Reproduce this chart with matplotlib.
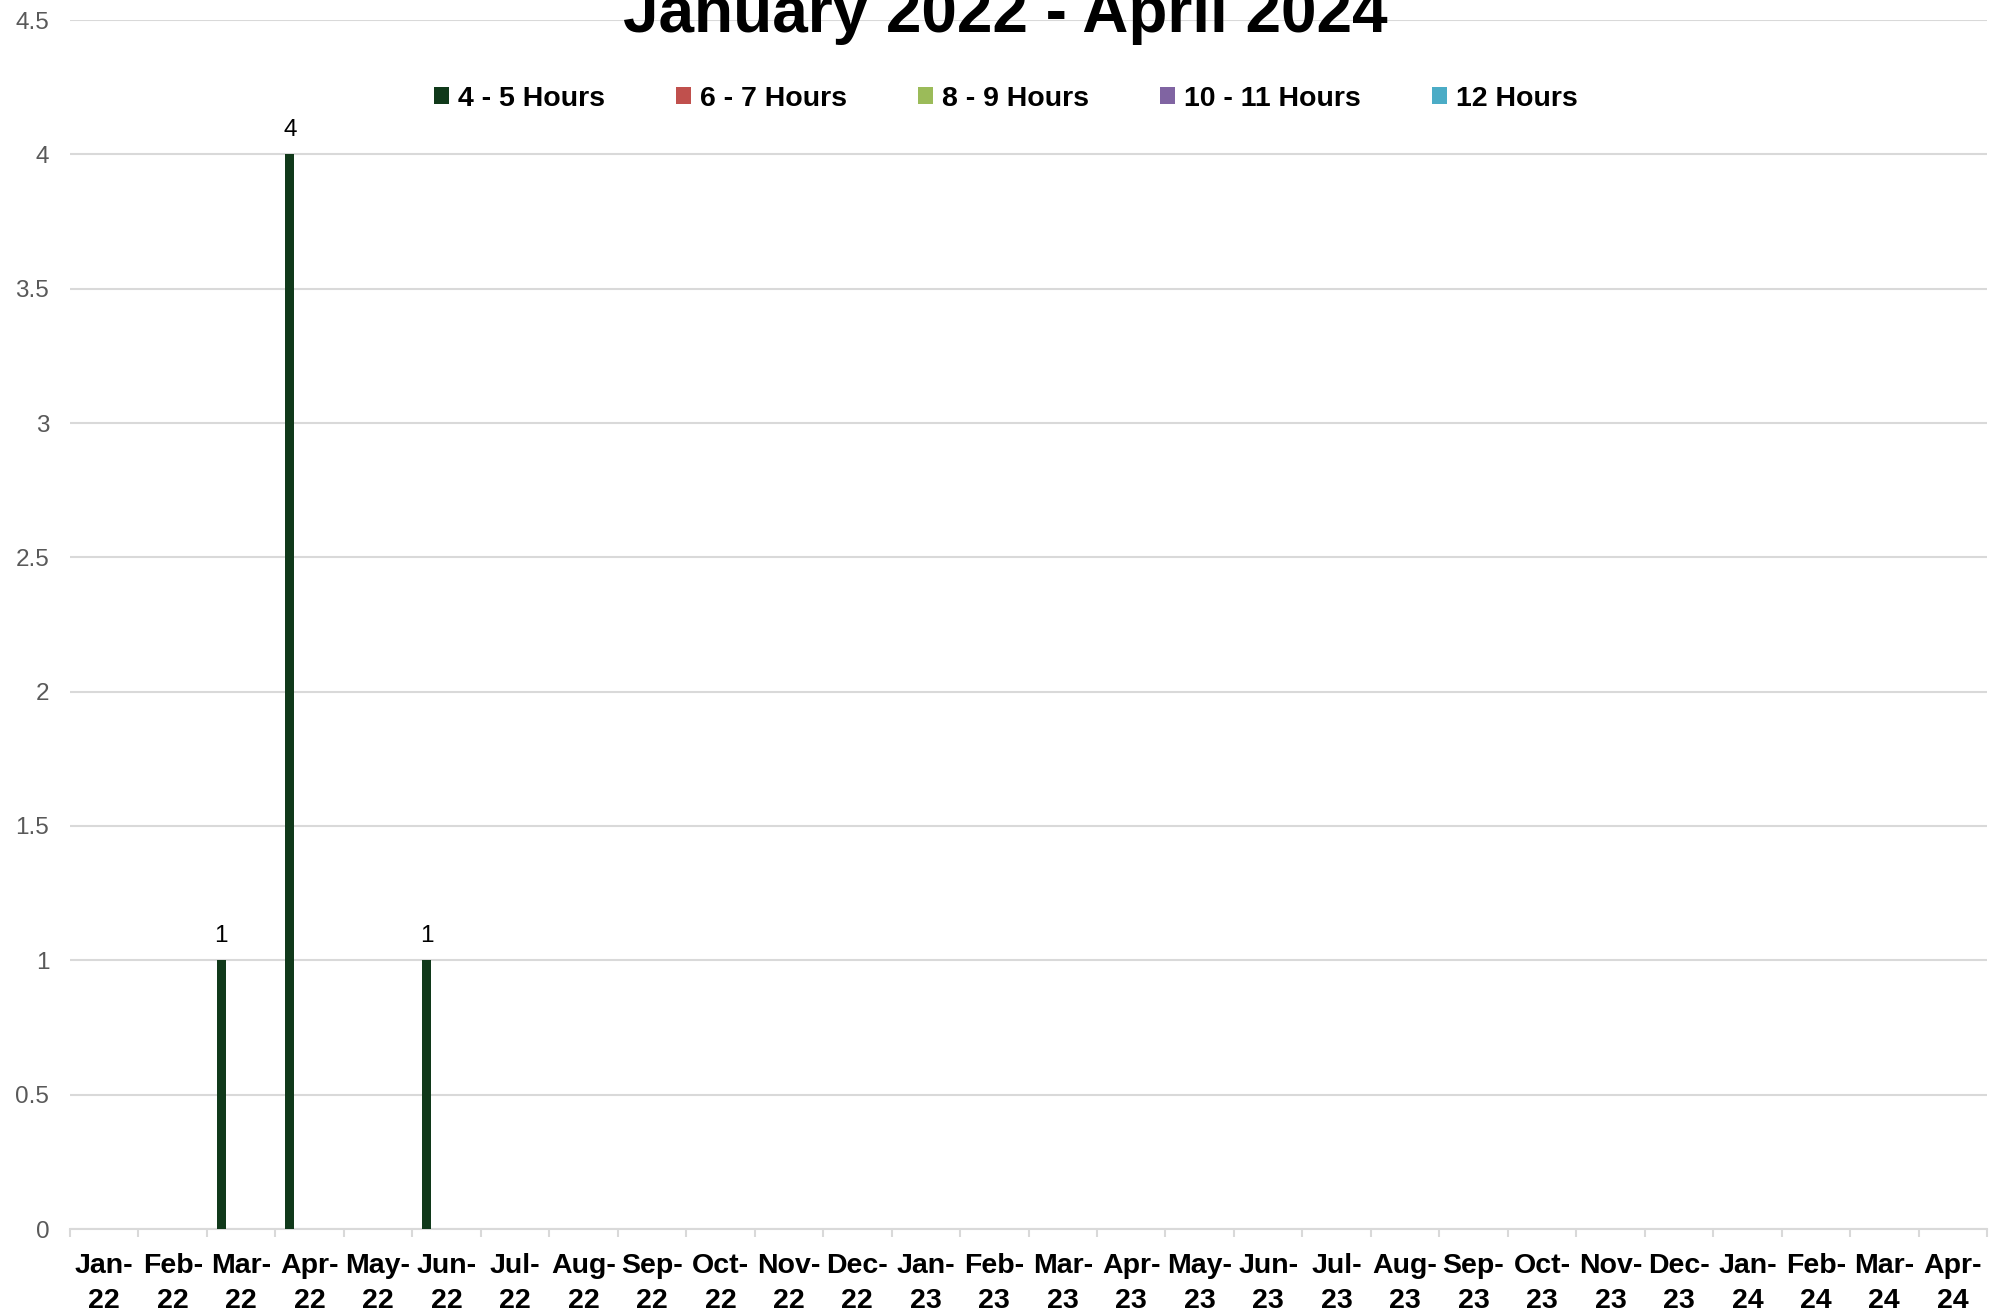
import matplotlib
matplotlib.use("Agg")
import matplotlib.pyplot as plt
from matplotlib.patches import Patch
import numpy as np

months = ["Jan-\n22", "Feb-\n22", "Mar-\n22", "Apr-\n22", "May-\n22", "Jun-\n22",
          "Jul-\n22", "Aug-\n22", "Sep-\n22", "Oct-\n22", "Nov-\n22", "Dec-\n22",
          "Jan-\n23", "Feb-\n23", "Mar-\n23", "Apr-\n23", "May-\n23", "Jun-\n23",
          "Jul-\n23", "Aug-\n23", "Sep-\n23", "Oct-\n23", "Nov-\n23", "Dec-\n23",
          "Jan-\n24", "Feb-\n24", "Mar-\n24", "Apr-\n24"]

series_names = ["4 - 5 Hours", "6 - 7 Hours", "8 - 9 Hours", "10 - 11 Hours", "12 Hours"]
hours_4_5 = [0, 0, 1, 4, 0, 1, 0, 0, 0, 0, 0, 0, 0, 0, 0, 0, 0, 0, 0, 0, 0, 0, 0, 0, 0, 0, 0, 0]
hours_6_7 = [0] * 28
hours_8_9 = [0] * 28
hours_10_11 = [0] * 28
hours_12 = [0] * 28
series_values = [hours_4_5, hours_6_7, hours_8_9, hours_10_11, hours_12]
colors = ["#10391a", "#c0504d", "#9bbb59", "#8064a2", "#4bacc6"]

title = "January 2022 - April 2024"

plt.rcParams['font.family'] = ['Liberation Sans', 'DejaVu Sans']

W, H = 2007, 1314
fig = plt.figure(figsize=(W / 100, H / 100), dpi=100)
ax = fig.add_axes([70 / W, 1 - 1229 / H, (1987 - 70) / W, (1229 - 20) / H])

x = np.arange(len(months))
step = 0.145
bw = 0.128
for i, (name, vals, c) in enumerate(zip(series_names, series_values, colors)):
    offs = (i - 2) * step
    ax.bar(x + offs, vals, width=bw, color=c, label=name, zorder=3)
    for xi, v in zip(x, vals):
        if v > 0:
            ax.annotate(f"{v:g}", (xi + offs, v), xytext=(0, 13), textcoords="offset points",
                        ha="center", va="baseline", fontsize=17.5, color="black")

ax.set_xlim(-0.5, len(months) - 0.5)
ax.set_ylim(0, 4.5)
ax.set_yticks(np.arange(0, 4.51, 0.5))
ax.set_yticklabels(["0", "0.5", "1", "1.5", "2", "2.5", "3", "3.5", "4", "4.5"])
ax.yaxis.grid(True, color="#d9d9d9", linewidth=1.5, zorder=0)
ax.set_axisbelow(True)
ax.tick_params(axis="y", length=0, pad=15, labelsize=17.5, labelcolor="#595959")

ax.set_xticks(x)
ax.set_xticklabels(months, fontsize=20.5, fontweight="bold", color="black", linespacing=1.42)
ax.set_xticks(np.arange(-0.5, len(months), 1.0), minor=True)
ax.tick_params(axis="x", which="major", length=0, pad=17.5)
ax.tick_params(axis="x", which="minor", length=6, width=1.5, color="#d9d9d9")

for s in ["left", "right", "top"]:
    ax.spines[s].set_visible(False)
ax.spines["bottom"].set_color("#d9d9d9")
ax.spines["bottom"].set_linewidth(1.5)

fig.text(0.501, 1 - 32 / H, title, ha="center", va="baseline", fontsize=46, fontweight="bold")

handles = [Patch(facecolor=c, edgecolor="none") for c in colors]
leg = fig.legend(handles, series_names, loc="center", bbox_to_anchor=(0.501, 1 - 99 / H), ncol=5,
                 frameon=False, prop={"size": 20.5, "weight": "bold"}, handlelength=0.54,
                 handleheight=0.54, handletextpad=0.3, columnspacing=2.5)

fig.savefig("out.png", dpi=100, facecolor="white")
